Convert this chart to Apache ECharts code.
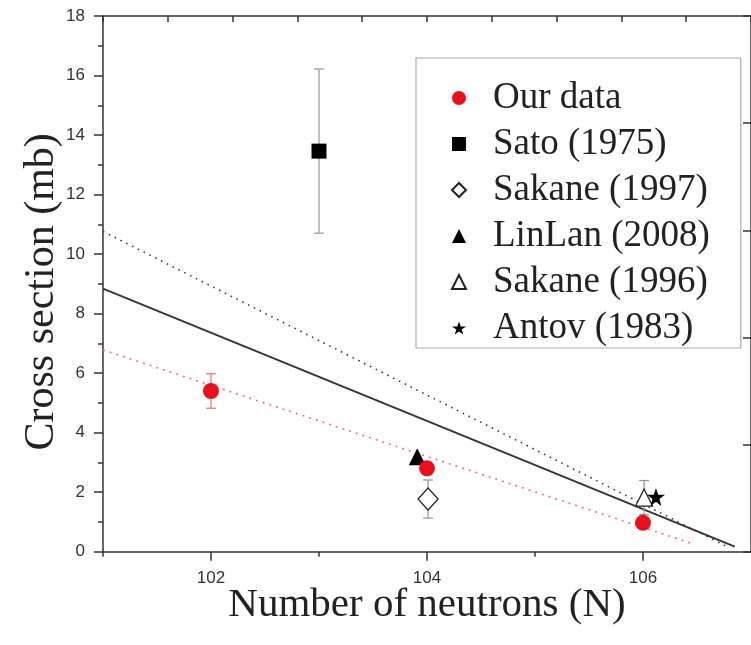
<!DOCTYPE html>
<html>
<head>
<meta charset="utf-8">
<script src="https://cdn.jsdelivr.net/npm/echarts@6/dist/echarts.min.js"></script>
<style>
html,body{margin:0;padding:0;background:#fff;}
#chart{width:751px;height:645px;}
</style>
</head>
<body>
<div id="chart"></div>
<script>
// ---- data ----
const ourX = [102, 104, 106];
const ourY = [5.4, 2.8, 0.97];
const ourErr = [0.58, 0.2, 0.1];

const satoX = [103];
const satoY = [13.46];
const satoErr = [2.76];

const sakane97X = [104.01];
const sakane97Y = [1.77];
const sakane97Err = [0.64];

const linlanX = [103.91];
const linlanY = [3.19];

const sakane96X = [106.01];
const sakane96Y = [1.82];
const sakane96Err = [0.57];

const antovX = [106.12];
const antovY = [1.84];

const solidFitX = [101, 106.85];
const solidFitY = [8.84, 0.17];
const dottedFitX = [101, 106.78];
const dottedFitY = [10.76, 0.17];
const redFitX = [101, 106.45];
const redFitY = [6.78, 0.28];

const xMajorTicks = [102, 104, 106];
const xMinorTicks = [101, 103, 105];

const seriesNames = ['Our data', 'Sato (1975)', 'Sakane (1997)', 'LinLan (2008)', 'Sakane (1996)', 'Antov (1983)'];

// ---- helpers ----
const pts = (xs, ys) => xs.map((x, i) => [x, ys[i]]);
const errPts = (xs, ys, es) => xs.map((x, i) => [x, ys[i] - es[i], ys[i] + es[i]]);

const STAR = 'path://M50,0 L61.8,35.1 L98.9,35.1 L68.9,56.7 L79.4,91.9 L50,70.5 L20.6,91.9 L31.1,56.7 L1.1,35.1 L38.2,35.1 Z';

function errorBar(color, lw, cap) {
  return function (params, api) {
    const x = api.value(0), lo = api.value(1), hi = api.value(2);
    const p1 = api.coord([x, hi]);
    const p2 = api.coord([x, lo]);
    const st = { stroke: color, lineWidth: lw };
    return {
      type: 'group',
      children: [
        { type: 'line', shape: { x1: p1[0], y1: p1[1], x2: p2[0], y2: p2[1] }, style: st },
        { type: 'line', shape: { x1: p1[0] - cap, y1: p1[1], x2: p1[0] + cap, y2: p1[1] }, style: st },
        { type: 'line', shape: { x1: p2[0] - cap, y1: p2[1], x2: p2[0] + cap, y2: p2[1] }, style: st }
      ]
    };
  };
}

const serif = 'Liberation Serif, Times New Roman, serif';
const sans = 'Liberation Sans, Arial, sans-serif';
const axisCol = '#333';

const chart = echarts.init(document.getElementById('chart'), null, { renderer: 'canvas' });

const option = {
  backgroundColor: '#fff',
  animation: false,
  grid: { left: 103, top: 16, right: -4.5, bottom: 93.3, containLabel: false },
  xAxis: [
    {
      type: 'value', min: 101, max: 107, position: 'bottom',
      name: 'Number of neutrons (N)', nameLocation: 'middle', nameGap: 33, nameMoveOverlap: false,
      nameTextStyle: { fontFamily: serif, fontSize: 41, color: '#222' },
      axisLine: { show: true, onZero: false, lineStyle: { color: axisCol, width: 1.5 } },
      axisTick: { show: true, customValues: xMajorTicks, length: 9, inside: false, lineStyle: { color: axisCol, width: 1.5 } },
      axisLabel: { show: true, customValues: xMajorTicks, margin: 18, fontFamily: sans, fontSize: 17, color: '#333' },
      splitLine: { show: false }
    },
    {
      type: 'value', min: 101, max: 107, position: 'bottom',
      axisLine: { show: false, onZero: false },
      axisTick: { show: true, customValues: xMinorTicks, length: 5, inside: false, lineStyle: { color: axisCol, width: 1.5 } },
      axisLabel: { show: false },
      splitLine: { show: false }
    },
    {
      type: 'value', min: 0, max: 10, interval: 1, position: 'top',
      axisLine: { show: true, onZero: false, lineStyle: { color: axisCol, width: 1.5 } },
      axisTick: { show: true, inside: true, length: 6, lineStyle: { color: axisCol, width: 1.5 } },
      axisLabel: { show: false },
      splitLine: { show: false }
    }
  ],
  yAxis: [
    {
      type: 'value', min: 0, max: 18, interval: 2, position: 'left',
      name: 'Cross section (mb)', nameLocation: 'middle', nameGap: 40, nameRotate: 90, nameMoveOverlap: false,
      nameTextStyle: { fontFamily: serif, fontSize: 42, color: '#222', padding: [0, 16, 0, 0] },
      axisLine: { show: true, onZero: false, lineStyle: { color: axisCol, width: 1.5 } },
      axisTick: { show: true, length: 9, inside: false, lineStyle: { color: axisCol, width: 1.5 } },
      minorTick: { show: true, splitNumber: 2, length: 5, lineStyle: { color: axisCol, width: 1.5 } },
      axisLabel: { show: true, margin: 18, fontFamily: sans, fontSize: 17, color: '#333' },
      splitLine: { show: false }
    },
    {
      type: 'value', min: 0, max: 5, interval: 1, position: 'right',
      axisLine: { show: true, onZero: false, lineStyle: { color: axisCol, width: 1.5 } },
      axisTick: { show: true, inside: true, length: 8, lineStyle: { color: axisCol, width: 1.5 } },
      axisLabel: { show: false },
      splitLine: { show: false }
    }
  ],
  legend: {
    data: seriesNames,
    orient: 'vertical',
    left: 416, top: 58,
    padding: [20, 31, 0, 35],
    itemGap: 6,
    itemWidth: 14, itemHeight: 14,
    backgroundColor: '#fff',
    borderColor: '#aaa', borderWidth: 1.2,
    textStyle: { fontFamily: serif, fontSize: 37, color: '#222', lineHeight: 40, padding: [0, 0, 0, 22] },
    z: 10
  },
  series: [
    // fitted lines
    { type: 'line', data: pts(solidFitX, solidFitY), symbol: 'none', lineStyle: { color: '#333', width: 1.8, type: 'solid' }, z: 1, silent: true },
    { type: 'line', data: pts(dottedFitX, dottedFitY), symbol: 'none', lineStyle: { color: '#333', width: 1.6, type: [1.5, 5] }, z: 1, silent: true },
    { type: 'line', data: pts(redFitX, redFitY), symbol: 'none', lineStyle: { color: '#ee7070', width: 1.6, type: [2, 5] }, z: 1, silent: true },
    // error bars
    { type: 'custom', data: errPts(satoX, satoY, satoErr), encode: { x: 0, y: [1, 2] }, renderItem: errorBar('#aaa', 1.5, 5), z: 2, silent: true },
    { type: 'custom', data: errPts(sakane97X, sakane97Y, sakane97Err), encode: { x: 0, y: [1, 2] }, renderItem: errorBar('#999', 1.3, 5), z: 2, silent: true },
    { type: 'custom', data: errPts(sakane96X, sakane96Y, sakane96Err), encode: { x: 0, y: [1, 2] }, renderItem: errorBar('#999', 1.3, 5), z: 2, silent: true },
    { type: 'custom', data: errPts(ourX, ourY, ourErr), encode: { x: 0, y: [1, 2] }, renderItem: errorBar('#f07a7a', 1.3, 5), z: 2, silent: true },
    // markers
    { name: seriesNames[1], type: 'scatter', data: pts(satoX, satoY), symbol: 'rect', symbolSize: 15, itemStyle: { color: '#000', opacity: 1 }, z: 3 },
    { name: seriesNames[2], type: 'scatter', data: pts(sakane97X, sakane97Y), symbol: 'diamond', symbolSize: [20, 22], itemStyle: { color: '#fff', borderColor: '#222', borderWidth: 1.3, opacity: 1 }, z: 3 },
    { name: seriesNames[3], type: 'scatter', data: pts(linlanX, linlanY), symbol: 'triangle', symbolSize: 17, itemStyle: { color: '#000', opacity: 1 }, z: 3 },
    { name: seriesNames[4], type: 'scatter', data: pts(sakane96X, sakane96Y), symbol: 'triangle', symbolSize: 17, itemStyle: { color: '#fff', borderColor: '#222', borderWidth: 1.3, opacity: 1 }, z: 3 },
    { name: seriesNames[5], type: 'scatter', data: pts(antovX, antovY), symbol: STAR, symbolSize: 18, itemStyle: { color: '#000', opacity: 1 }, z: 3 },
    { name: seriesNames[0], type: 'scatter', data: pts(ourX, ourY), symbol: 'circle', symbolSize: 16, itemStyle: { color: '#e8101c', opacity: 1 }, z: 4 }
  ]
};

chart.setOption(option);
</script>
</body>
</html>
